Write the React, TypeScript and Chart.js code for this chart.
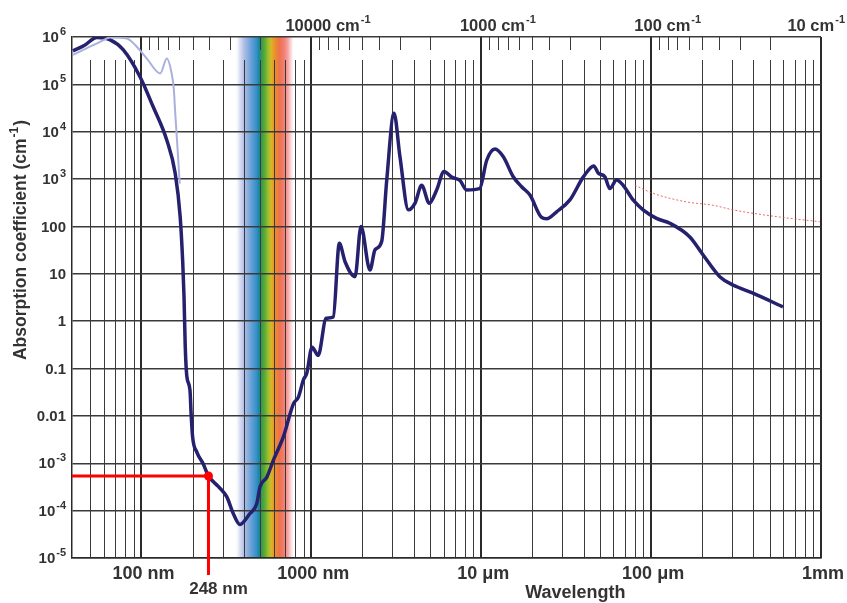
import React, { useEffect, useRef } from "react";
import { Chart, registerables } from "chart.js";

Chart.register(...registerables);

// ---- Data (wavelength in nm, absorption coefficient in cm^-1) ----
const waterWavelengths = [
  39.5, 46, 54.7, 65.5, 78, 98, 117, 141, 158, 169, 175, 178, 181, 185, 193, 196, 200, 212, 230, 248,
  284, 318, 347, 380, 435, 477, 499, 547, 598, 684, 784, 839, 898, 939, 1010, 1097, 1222, 1346,
  1461, 1579, 1807, 1960, 2213, 2369, 2594, 2778, 3065, 3324, 3726, 4077, 4461, 4943, 5466, 6040,
  6700, 7500, 8200, 9780, 10770, 12050, 13490, 15430, 17290, 19360, 22660, 24270, 27790, 33270,
  39830, 46020, 48760, 53420, 57170, 62560, 68450, 78340, 89700, 107600, 128900, 169000, 202400,
  253600, 303500, 398000, 597000,
];
const waterValues = [
  5.1e5, 6.6e5, 9.8e5, 8.7e5, 5.4e5, 1.45e5, 3.4e4, 6600, 1320, 160, 17, 3.3, 0.29, 0.068, 0.035, 0.011,
  0.0036, 0.0017, 0.001, 5.4e-4, 3.2e-4, 1.95e-4, 8.7e-5, 5.1e-5, 8.7e-5, 1.4e-4, 3.2e-4, 5.1e-4,
  1.17e-3, 3.6e-3, 0.018, 0.025, 0.058, 0.079, 0.28, 0.19, 1.15, 1.23, 44, 18, 8.7, 100, 12, 32, 48,
  950, 24500, 2950, 224, 310, 740, 310, 590, 1450, 1100, 930, 590, 630, 2500, 4300, 2950, 1120, 690,
  460, 155, 145, 204, 363, 1100, 1900, 1350, 1120, 630, 955, 740, 363, 224, 148, 117, 60, 25, 8.7,
  5.8, 3.9, 2.0,
];

const uvWavelengths = [39.5, 47.7, 57.1, 65.5, 82, 91.8, 107.6, 128.9, 141, 151, 155, 158, 162, 166, 168];
const uvValues = [4.2e5, 5.8e5, 7.9e5, 9.8e5, 9.3e5, 6.8e5, 3.5e5, 1.7e5, 3.5e5, 1.6e5, 8e4, 2.5e4, 6300, 1600, 800];

const farIrWavelengths = [80200, 102800, 161400, 231700, 303500, 571000, 982000];
const farIrValues = [740, 500, 330, 280, 224, 158, 126];

const yTickValues = [1e-5, 1e-4, 1e-3, 0.01, 0.1, 1, 10, 100, 1e3, 1e4, 1e5, 1e6];
const yTickBases = ["10", "10", "10", "0.01", "0.1", "1", "10", "100", "10", "10", "10", "10"];
const yTickSups = ["-5", "-4", "-3", "", "", "", "", "", "3", "4", "5", "6"];

const xTickValues = [100, 1000, 10000, 100000, 1000000];
const xTickLabels = ["100 nm", "1000 nm", "10 \u03bcm", "100 \u03bcm", "1mm"];

const wavenumberValues = [10000, 1000, 100, 10]; // cm^-1
const wavenumberBases = ["10000", "1000", "100", "10"];

const markerWavelength = 248;
const markerValue = 5.4e-4;
const markerLabel = "248 nm";

const xMin = 39;
const xMax = 1e6;

const FONT = "'Liberation Sans', Arial, Helvetica, sans-serif";
const TEXT = "#333333";

const spectrumStops: [number, string][] = [
  [358, "rgba(235,235,248,0)"],
  [378, "rgba(205,210,238,0.7)"],
  [400, "rgb(178,192,230)"],
  [425, "rgb(135,172,222)"],
  [450, "rgb(92,156,212)"],
  [475, "rgb(52,146,200)"],
  [492, "rgb(28,132,162)"],
  [505, "rgb(46,152,86)"],
  [530, "rgb(86,170,54)"],
  [560, "rgb(162,192,44)"],
  [580, "rgb(216,182,42)"],
  [610, "rgb(236,142,44)"],
  [650, "rgb(238,114,74)"],
  [690, "rgb(242,126,116)"],
  [730, "rgb(246,166,166)"],
  [770, "rgba(250,215,215,0.6)"],
  [790, "rgba(255,255,255,0)"],
];

function drawSup(
  ctx: CanvasRenderingContext2D,
  base: string,
  sup: string,
  x: number,
  y: number,
  align: "left" | "center" | "right",
  baseSize: number,
  supSize: number,
  supShift: number,
  tail = ""
) {
  ctx.save();
  ctx.textBaseline = "middle";
  ctx.textAlign = "left";
  ctx.font = `bold ${baseSize}px ${FONT}`;
  const w1 = ctx.measureText(base).width;
  const w3 = tail ? ctx.measureText(tail).width + 1 : 0;
  ctx.font = `bold ${supSize}px ${FONT}`;
  const w2 = sup ? ctx.measureText(sup).width + 1 : 0;
  const total = w1 + w2 + w3;
  let sx = x;
  if (align === "center") sx = x - total / 2;
  else if (align === "right") sx = x - total;
  ctx.fillStyle = TEXT;
  ctx.font = `bold ${baseSize}px ${FONT}`;
  ctx.fillText(base, sx, y);
  if (tail) ctx.fillText(tail, sx + w1 + w2 + 1, y);
  if (sup) {
    ctx.font = `bold ${supSize}px ${FONT}`;
    ctx.fillText(sup, sx + w1 + 1, y - supShift);
  }
  ctx.restore();
  return total;
}

const backgroundPlugin = {
  id: "backgroundDecor",
  beforeDraw(chart: any) {
    const { ctx, chartArea, scales } = chart;
    const { top, bottom } = chartArea;
    const x = scales.x;
    ctx.save();
    ctx.fillStyle = "#ffffff";
    ctx.fillRect(0, 0, chart.width, chart.height);

    // visible spectrum band
    const x0 = x.getPixelForValue(spectrumStops[0][0]);
    const x1 = x.getPixelForValue(spectrumStops[spectrumStops.length - 1][0]);
    const g = ctx.createLinearGradient(x0, 0, x1, 0);
    spectrumStops.forEach(([w, c]) => {
      g.addColorStop(Math.min(1, Math.max(0, (x.getPixelForValue(w) - x0) / (x1 - x0))), c);
    });
    ctx.fillStyle = g;
    ctx.fillRect(x0, top, x1 - x0, bottom - top);

    // minor wavelength grid lines (partial height)
    ctx.strokeStyle = "#3a3a3a";
    ctx.lineWidth = 1;
    ctx.beginPath();
    for (let d = 10; d < xMax; d *= 10) {
      for (let m = 2; m <= 9; m++) {
        const w = m * d;
        if (w < 45 || w >= xMax) continue;
        const px = Math.round(x.getPixelForValue(w)) + 0.5;
        ctx.moveTo(px, top + 23);
        ctx.lineTo(px, bottom);
      }
    }
    ctx.stroke();

    // wavenumber minor ticks hanging from the top border
    ctx.beginPath();
    for (let d = 10; d <= 10000; d *= 10) {
      for (let m = 2; m <= 9; m++) {
        const w = 1e7 / (m * d);
        if (w <= xMin || w >= xMax) continue;
        const px = Math.round(x.getPixelForValue(w)) + 0.5;
        ctx.moveTo(px, top);
        ctx.lineTo(px, top + 13);
      }
    }
    ctx.stroke();
    ctx.restore();
  },
};

const overlayPlugin = {
  id: "overlayDecor",
  afterDatasetsDraw(chart: any) {
    const { ctx, chartArea, scales } = chart;
    const x = scales.x;
    const y = scales.y;
    const mx = x.getPixelForValue(markerWavelength);
    const my = y.getPixelForValue(markerValue);
    ctx.save();
    ctx.strokeStyle = "#ff0000";
    ctx.lineWidth = 3;
    ctx.beginPath();
    ctx.moveTo(chartArea.left, my);
    ctx.lineTo(mx, my);
    ctx.moveTo(mx, my);
    ctx.lineTo(mx, chartArea.bottom + 17);
    ctx.stroke();
    ctx.fillStyle = "#ff0000";
    ctx.beginPath();
    ctx.arc(mx, my, 4.5, 0, Math.PI * 2);
    ctx.fill();
    ctx.restore();
  },
  afterDraw(chart: any) {
    const { ctx, chartArea, scales } = chart;
    const { left, right, top, bottom } = chartArea;
    const x = scales.x;
    const y = scales.y;
    const W = chart.width;

    // y tick labels
    yTickValues.forEach((v, i) => {
      drawSup(ctx, yTickBases[i], yTickSups[i], left - 6, y.getPixelForValue(v) + 1, "right", 15, 11, 6);
    });

    // x tick labels
    ctx.save();
    ctx.font = `bold 18px ${FONT}`;
    ctx.fillStyle = TEXT;
    ctx.textBaseline = "middle";
    xTickValues.forEach((v, i) => {
      const px = x.getPixelForValue(v);
      const w = ctx.measureText(xTickLabels[i]).width;
      if (px + w / 2 > W - 2) {
        ctx.textAlign = "right";
        ctx.fillText(xTickLabels[i], W - 2, bottom + 16);
      } else {
        ctx.textAlign = "center";
        ctx.fillText(xTickLabels[i], px + 2, bottom + 16);
      }
    });
    // marker label
    ctx.font = `bold 17px ${FONT}`;
    ctx.textAlign = "center";
    ctx.fillText(markerLabel, x.getPixelForValue(markerWavelength) + 10, bottom + 31);
    // axis title
    ctx.font = `bold 18px ${FONT}`;
    ctx.fillText("Wavelength", left + (right - left) * 0.672, bottom + 35);
    ctx.restore();

    // top wavenumber labels
    wavenumberValues.forEach((k, i) => {
      const px = x.getPixelForValue(1e7 / k);
      ctx.save();
      ctx.font = `bold 16.5px ${FONT}`;
      const wb = ctx.measureText(wavenumberBases[i]).width;
      const text = wavenumberBases[i] + " cm";
      const wt = ctx.measureText(text).width;
      ctx.font = `bold 11px ${FONT}`;
      const ws = ctx.measureText("-1").width + 1;
      ctx.restore();
      let sx = px - 3 - wb / 2;
      if (sx + wt + ws > W - 2) sx = W - 2 - wt - ws;
      drawSup(ctx, text, "-1", sx, top - 11, "left", 16.5, 11, 6);
    });

    // y axis title
    ctx.save();
    ctx.translate(21, 240);
    ctx.rotate(-Math.PI / 2);
    drawSup(ctx, "Absorption coefficient (cm", "-1", 0, 0, "center", 17.5, 12, 6, ")");
    ctx.restore();
  },
};

export default function App() {
  const ref = useRef<HTMLCanvasElement | null>(null);
  useEffect(() => {
    document.body.style.margin = "0";
    if (!ref.current) return;
    const toPoints = (xs: number[], ys: number[]) => xs.map((w, i) => ({ x: w, y: ys[i] }));
    const chart = new Chart(ref.current, {
      type: "line",
      data: {
        datasets: [
          {
            label: "UV (other source)",
            data: toPoints(uvWavelengths, uvValues),
            borderColor: "#aab0dc",
            borderWidth: 2,
            pointRadius: 0,
            cubicInterpolationMode: "monotone",
          },
          {
            label: "Far IR",
            data: toPoints(farIrWavelengths, farIrValues),
            borderColor: "rgba(232,70,70,0.8)",
            borderWidth: 1,
            borderDash: [2, 2],
            pointRadius: 0,
            cubicInterpolationMode: "monotone",
          },
          {
            label: "Water",
            data: toPoints(waterWavelengths, waterValues),
            borderColor: "#25216f",
            borderWidth: 3.5,
            pointRadius: 0,
            cubicInterpolationMode: "monotone",
          },
        ],
      },
      options: {
        animation: false,
        responsive: false,
        layout: { padding: { left: 72, right: 26, top: 37, bottom: 45 } },
        plugins: { legend: { display: false }, tooltip: { enabled: false } },
        scales: {
          x: {
            type: "logarithmic",
            min: xMin,
            max: xMax,
            afterBuildTicks: (s: any) => {
              s.ticks = xTickValues.map((v) => ({ value: v }));
            },
            afterFit: (s: any) => {
              s.height = 0;
            },
            ticks: { display: false },
            grid: { color: "#2a2a2a", lineWidth: 2, drawTicks: false },
            border: { display: true, color: "#2a2a2a", width: 1.5 },
          },
          y: {
            type: "logarithmic",
            min: 1e-5,
            max: 1e6,
            afterBuildTicks: (s: any) => {
              s.ticks = yTickValues.map((v) => ({ value: v }));
            },
            afterFit: (s: any) => {
              s.width = 0;
            },
            ticks: { display: false },
            grid: { color: "#3a3a3a", lineWidth: 1.5, drawTicks: false },
            border: { display: true, color: "#2a2a2a", width: 1.5 },
          },
        },
      } as any,
      plugins: [backgroundPlugin, overlayPlugin],
    });
    return () => chart.destroy();
  }, []);
  return (
    <div style={{ width: 847, height: 603 }}>
      <canvas ref={ref} width={847} height={603} />
    </div>
  );
}
